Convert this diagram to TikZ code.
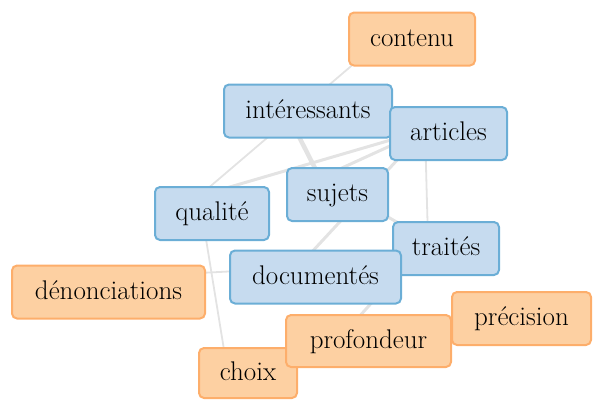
\documentclass[tikz,border=0pt]{standalone}
\usepackage{fontspec}
\usetikzlibrary{backgrounds}

\definecolor{bluefill}{HTML}{C6DBEF}
\definecolor{blueline}{HTML}{6BAED6}
\definecolor{orangefill}{HTML}{FDD0A2}
\definecolor{orangeline}{HTML}{FDAE6B}
\definecolor{linkgrey}{HTML}{E3E3E3}

\tikzset{
  word/.style={rectangle, rounded corners=5pt, line width=2pt, inner sep=0pt,
    minimum height=53, text height=19pt, text depth=5pt,
    font=\fontsize{27}{31}\selectfont},
  blueword/.style={word, draw=blueline, fill=bluefill},
  orangeword/.style={word, draw=orangeline, fill=orangefill},
  link/.style={draw=linkgrey, line cap=round},
  thinlink/.style={link, line width=1.8pt},
  midlink/.style={link, line width=3pt},
  thicklink/.style={link, line width=4.5pt},
}

\begin{document}
\begin{tikzpicture}[x=1pt, y=-1pt]
\useasboundingbox (0,0) rectangle (598,400);

% word boxes, in stacking order
\node[orangeword, minimum width=126] (contenu) at (412,39) {contenu};
\node[blueword, minimum width=168] (interessants) at (308,111) {intéressants};
\node[blueword, minimum width=117] (articles) at (448.5,133.5) {articles};
\node[blueword, minimum width=101] (sujets) at (337.5,194.5) {sujets};
\node[blueword, minimum width=114] (qualite) at (212,213.5) {qualité};
\node[blueword, minimum width=106] (traites) at (446,248.5) {traités};
\node[blueword, minimum width=171] (documentes) at (315.5,277) {documentés};
\node[orangeword, minimum width=193] (denonciations) at (108.5,292) {dénonciations};
\node[orangeword, minimum width=98, minimum height=50] (choix) at (248,373) {choix};
\node[orangeword, minimum width=139] (precision) at (521.5,318.5) {précision};
\node[orangeword, minimum width=165, minimum height=52] (profondeur) at (368.5,341) {profondeur};

% graph vertices sit slightly off the label centres
\coordinate (contenu-hub) at ([shift={(-42,11)}]contenu.center);
\coordinate (interessants-hub) at ([shift={(-20,4)}]interessants.center);
\coordinate (articles-hub) at ([shift={(-23.5,-3.5)}]articles.center);
\coordinate (sujets-hub) at ([shift={(-17.5,-16.5)}]sujets.center);
\coordinate (qualite-hub) at ([shift={(-13,-17.5)}]qualite.center);
\coordinate (traites-hub) at ([shift={(-18,-8.5)}]traites.center);
\coordinate (documentes-hub) at ([shift={(-18.5,-9)}]documentes.center);
\coordinate (denonciations-hub) at ([shift={(71.5,-18)}]denonciations.center);
\coordinate (profondeur-hub) at ([shift={(-28.5,-3)}]profondeur.center);
\coordinate (choix-hub) at ([shift={(-22,-11)}]choix.center);

% co-occurrence links behind the boxes
\begin{scope}[on background layer]
  \draw[thinlink] (contenu-hub) -- (qualite-hub);
  \draw[thicklink] (interessants-hub) -- (sujets-hub);
  \draw[midlink] (articles-hub) -- (qualite-hub);
  \draw[midlink] (articles-hub) -- (sujets-hub);
  \draw[midlink] (articles-hub) -- (documentes-hub);
  \draw[thinlink] (articles-hub) -- (traites-hub);
  \draw[midlink] (sujets-hub) -- (traites-hub);
  \draw[midlink] (traites-hub) -- (profondeur-hub);
  \draw[thinlink] (qualite-hub) -- (choix-hub);
  \draw[thinlink] (denonciations-hub) -- (documentes-hub);
\end{scope}
\end{tikzpicture}
\end{document}
